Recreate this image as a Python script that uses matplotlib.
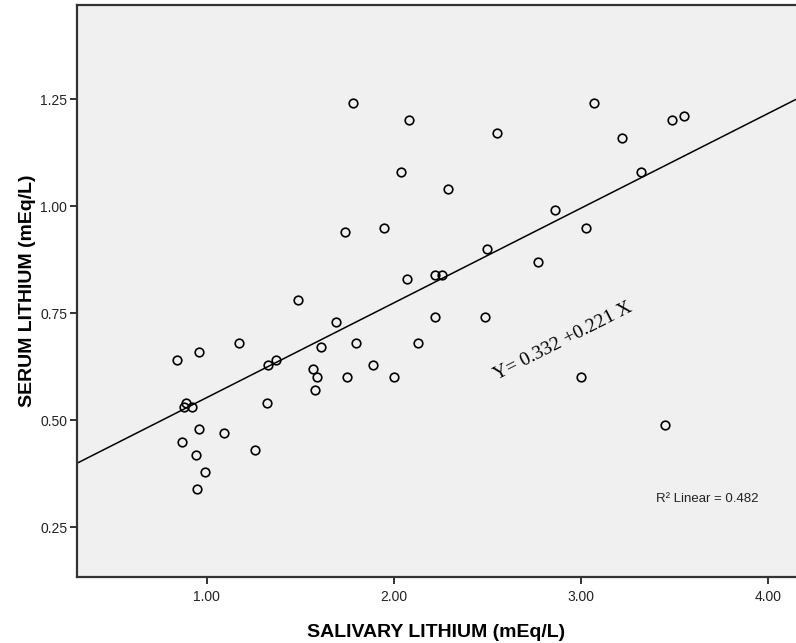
import numpy as np
import matplotlib
matplotlib.use("Agg")
import matplotlib.pyplot as plt

# salivary vs serum lithium (mEq/L)
salivary = [0.84, 0.96, 1.17, 1.33, 1.37, 1.49, 1.69, 1.61, 1.57, 1.59,
            1.58, 1.75, 0.89, 0.88, 0.92, 1.32, 0.96, 1.09, 0.87, 0.94,
            1.26, 0.99, 0.95, 1.78, 2.08, 2.55, 2.04, 2.29, 1.74, 1.95,
            2.50, 2.07, 2.22, 2.26, 2.22, 2.49, 1.80, 2.13, 1.89, 2.00,
            3.07, 3.22, 3.49, 3.55, 3.32, 2.86, 3.03, 2.77, 3.00, 3.45]
serum = [0.64, 0.66, 0.68, 0.63, 0.64, 0.78, 0.73, 0.67, 0.62, 0.60,
         0.57, 0.60, 0.54, 0.53, 0.53, 0.54, 0.48, 0.47, 0.45, 0.42,
         0.43, 0.38, 0.34, 1.24, 1.20, 1.17, 1.08, 1.04, 0.94, 0.95,
         0.90, 0.83, 0.84, 0.84, 0.74, 0.74, 0.68, 0.68, 0.63, 0.60,
         1.24, 1.16, 1.20, 1.21, 1.08, 0.99, 0.95, 0.87, 0.60, 0.49]

intercept = 0.332
slope = 0.221
r2 = 0.482

xticks = [1.0, 2.0, 3.0, 4.0]
yticks = [0.25, 0.50, 0.75, 1.00, 1.25]
xlim = (0.306, 4.151)
ylim = (0.134, 1.469)

plt.rcParams['font.family'] = ['Liberation Sans', 'DejaVu Sans']

fig = plt.figure(figsize=(7.96, 6.43), dpi=100)
ax = fig.add_axes([0.0967, 0.1026, 0.9033, 0.8892])
ax.set_facecolor('#f0f0f0')

# fit line across the full x range
xs = np.array(xlim)
ax.plot(xs, intercept + slope * xs, color='black', lw=1.1, zorder=2)

ax.plot(salivary, serum, linestyle='none', marker='o', markersize=6.2,
        markerfacecolor='none', markeredgecolor='black', markeredgewidth=1.2,
        zorder=3)

ax.set_xlim(*xlim)
ax.set_ylim(*ylim)
ax.set_xticks(xticks)
ax.set_xticklabels([f"{v:.2f}" for v in xticks])
ax.set_yticks(yticks)
ax.set_yticklabels([f"{v:.2f}" for v in yticks])
ax.tick_params(direction='out', length=5, width=1.3, color='#222222',
               labelsize=10, labelcolor='#222222', pad=2)
ax.tick_params(axis='x', pad=4.5)

for side in ['left', 'bottom', 'top']:
    ax.spines[side].set_color('#333333')
    ax.spines[side].set_linewidth(1.6)
ax.spines['right'].set_visible(False)

ax.set_xlabel('SALIVARY LITHIUM (mEq/L)', fontsize=14, fontweight='bold',
              labelpad=14)
ax.set_ylabel('SERUM LITHIUM (mEq/L)', fontsize=14, fontweight='bold',
              labelpad=3)

ax.text(2.905, 0.684, 'Y= 0.332 +0.221 X', family='Liberation Serif',
        fontsize=14, rotation=27, ha='center', va='center', zorder=4)
ax.text(3.40, 0.316, f'R² Linear = {r2:.3f}', fontsize=9.5,
        ha='left', va='center', color='#222222')

fig.savefig('out.png', dpi=100)
